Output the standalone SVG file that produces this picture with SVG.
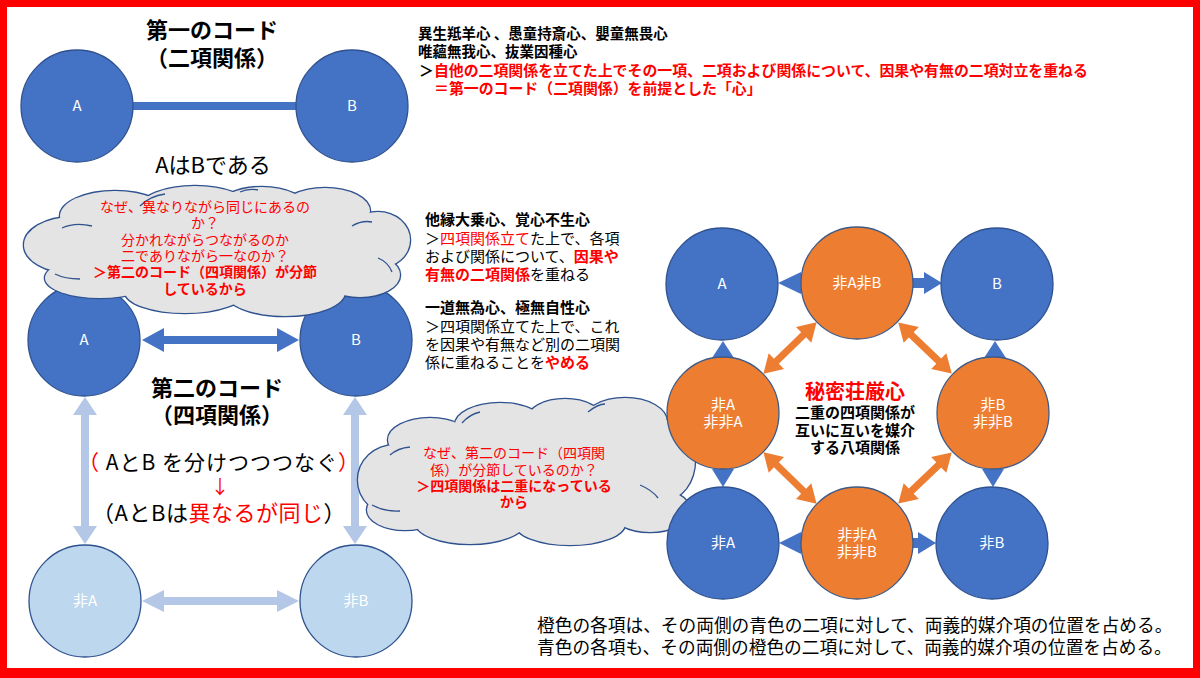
<svg xmlns="http://www.w3.org/2000/svg" xmlns:xlink="http://www.w3.org/1999/xlink" width="1200" height="678" viewBox="0 0 1200 678">
<style>
  text { font-family: 'Noto Sans CJK JP', 'Noto Sans', sans-serif; }
  .blue { fill:#4472C4; stroke:#2F528F; stroke-width:1.3; }
  .orange { fill:#ED7D31; stroke:#3E5A86; stroke-width:1.3; }
  .light { fill:#BDD7EE; stroke:#2F528F; stroke-width:1.3; }
  .lbl { fill:#FFFFFF; font-size:15px; text-anchor:middle; }
  .ttl { font-size:22px; font-weight:bold; text-anchor:middle; fill:#000; }
  .txt { font-size:15px; fill:#000; }
  .bd { font-weight:bold; }
  .red { fill:#FF0000; }
  .ctxt { font-size:14px; fill:#FF0000; text-anchor:middle; }
  .cloudline { fill:#E4E4E4; stroke:#2F528F; stroke-width:2.6; }
  .cloudfill { fill:#E4E4E4; stroke:none; }
  .inner { fill:none; stroke:#2F528F; stroke-width:1.3; }
</style>
<defs>
  <g id="c1shape">
    <ellipse cx="72" cy="245" rx="48" ry="28"/>
    <ellipse cx="115" cy="216" rx="55" ry="25"/>
    <ellipse cx="195" cy="208" rx="55" ry="22"/>
    <ellipse cx="262" cy="209" rx="45" ry="22"/>
    <ellipse cx="325" cy="211" rx="45" ry="23"/>
    <ellipse cx="378" cy="240" rx="32" ry="28"/>
    <ellipse cx="360" cy="275" rx="40" ry="22"/>
    <ellipse cx="285" cy="292" rx="60" ry="24"/>
    <ellipse cx="185" cy="292" rx="60" ry="21"/>
    <ellipse cx="100" cy="278" rx="55" ry="20"/>
    <ellipse cx="215" cy="250" rx="165" ry="50"/>
  </g>
  <g id="c2shape">
    <ellipse cx="395" cy="480" rx="37" ry="35"/>
    <ellipse cx="430" cy="440" rx="42" ry="22"/>
    <ellipse cx="500" cy="425" rx="45" ry="22"/>
    <ellipse cx="565" cy="420" rx="38" ry="21"/>
    <ellipse cx="625" cy="422" rx="42" ry="24"/>
    <ellipse cx="665" cy="460" rx="30" ry="40"/>
    <ellipse cx="650" cy="510" rx="40" ry="22"/>
    <ellipse cx="570" cy="524" rx="55" ry="21"/>
    <ellipse cx="470" cy="522" rx="55" ry="22"/>
    <ellipse cx="405" cy="510" rx="38" ry="20"/>
    <ellipse cx="525" cy="470" rx="140" ry="52"/>
  </g>
  <polygon id="odbl" points="-37,0 -19,-11 -19,-3.5 19,-3.5 19,-11 37,0 19,11 19,3.5 -19,3.5 -19,11" fill="#ED7D31"/>
</defs>

<!-- frame -->
<rect x="0" y="0" width="1200" height="678" fill="#FF0000"/>
<rect x="7" y="7" width="1186" height="661" fill="#FFFFFF"/>

<!-- connectors -->
<g id="connectors">
  <rect x="133" y="102" width="163" height="8" fill="#4472C4"/>
  <polygon points="142,340 164,328 164,336 277,336 277,328 299,340 277,352 277,344 164,344 164,352" fill="#4472C4"/>
  <polygon points="142,601 164,590 164,597 277,597 277,590 299,601 277,612 277,605 164,605 164,612" fill="#B4C7E7"/>
  <polygon points="85,397 73,415 81,415 81,526 73,526 85,544 97,526 89,526 89,415 97,415" fill="#B4C7E7"/>
  <polygon points="355,397 343,415 351,415 351,526 343,526 355,544 367,526 359,526 359,415 367,415" fill="#B4C7E7"/>
  <!-- octagon blue arrows -->
  <polygon points="778,283 801,272 801,294" fill="#4472C4"/>
  <polygon points="910,278 924,278 924,272 942,283 924,294 924,288 910,288" fill="#4472C4"/>
  <polygon points="723,341 712,358 734,358" fill="#4472C4"/>
  <polygon points="723,487 712,469 734,469" fill="#4472C4"/>
  <polygon points="995,341 984,358 1006,358" fill="#4472C4"/>
  <polygon points="993,487 982,469 1004,469" fill="#4472C4"/>
  <polygon points="779,543 801,532 801,554" fill="#4472C4"/>
  <polygon points="910,538 918,538 918,532 936,543 918,554 918,548 910,548" fill="#4472C4"/>
  <!-- orange double arrows -->
  <use xlink:href="#odbl" href="#odbl" transform="translate(790,348) rotate(-44.1)"/>
  <use xlink:href="#odbl" href="#odbl" transform="translate(925,348) rotate(43.7)"/>
  <use xlink:href="#odbl" href="#odbl" transform="translate(790,478) rotate(44.1)"/>
  <use xlink:href="#odbl" href="#odbl" transform="translate(925,478) rotate(-43.7)"/>
</g>

<!-- first code -->
<g id="title1">
  <text class="ttl" x="212" y="38">第一のコード</text>
  <text class="ttl" x="212" y="66">（二項関係）</text>
</g>
<g id="nodeA1"><circle class="blue" cx="77" cy="106" r="56"/><text class="lbl" x="77" y="111">A</text></g>
<g id="nodeB1"><circle class="blue" cx="352" cy="106" r="56"/><text class="lbl" x="352" y="111">B</text></g>
<g id="caption1"><text x="213" y="173" font-size="22" text-anchor="middle" fill="#000">AはBである</text></g>

<!-- second code -->
<g id="nodeA2"><circle class="blue" cx="84" cy="340" r="56"/><text class="lbl" x="84" y="345">A</text></g>
<g id="nodeB2"><circle class="blue" cx="356" cy="340" r="56"/><text class="lbl" x="356" y="345">B</text></g>
<g id="nodeNA2"><circle class="light" cx="85" cy="601" r="56"/><text class="lbl" x="85" y="606">非A</text></g>
<g id="nodeNB2"><circle class="light" cx="356" cy="601" r="56"/><text class="lbl" x="356" y="606">非B</text></g>

<g id="cloud1">
  <use xlink:href="#c1shape" href="#c1shape" class="cloudline"/>
  <use xlink:href="#c1shape" href="#c1shape" class="cloudfill"/>
  <path class="inner" d="M62,228 Q75,222 92,226"/>
  <path class="inner" d="M140,206 Q150,196 165,194"/>
  <path class="inner" d="M240,192 Q248,188 258,190"/>
  <path class="inner" d="M352,226 Q362,220 372,222"/>
  <path class="inner" d="M378,258 Q388,262 392,272"/>
  <path class="inner" d="M55,274 Q65,279 80,279"/>
  <text class="ctxt" x="205" y="212">なぜ、異なりながら同じにあるの</text>
  <text class="ctxt" x="205" y="228">か？</text>
  <text class="ctxt" x="205" y="245">分かれながらつながるのか</text>
  <text class="ctxt" x="205" y="261">二でありながら一なのか？</text>
  <text class="ctxt bd" x="205" y="277">＞第二のコード（四項関係）が分節</text>
  <text class="ctxt bd" x="205" y="294">しているから</text>
</g>

<g id="title2">
  <text class="ttl" x="217" y="396">第二のコード</text>
  <text class="ttl" x="217" y="423">（四項関係）</text>
  <text x="219" y="470" font-size="21" letter-spacing="1" text-anchor="middle" fill="#000"><tspan fill="#FF0000">（</tspan> AとB を分けつつつなぐ<tspan fill="#FF0000">）</tspan></text>
  <text x="220" y="494" font-size="19" text-anchor="middle" fill="#FF0000">↓</text>
  <text x="219" y="521" font-size="22" letter-spacing="0.5" text-anchor="middle" fill="#000">（AとBは<tspan fill="#FF0000">異なるが同じ</tspan>）</text>
</g>

<!-- top text -->
<g id="text-top">
  <text x="418" y="39" class="txt bd" style="font-size:14.5px">異生羝羊心 、愚童持斎心、嬰童無畏心</text>
  <text x="418" y="57" class="txt bd" style="font-size:14.5px">唯蘊無我心、抜業因種心</text>
  <text x="419" y="76" class="txt bd" style="font-size:14.9px">＞<tspan fill="#FF0000">自他の二項関係を立てた上でその一項、二項および関係について、因果や有無の二項対立を重ねる</tspan></text>
  <text x="434" y="94" class="txt bd red" style="font-size:14.9px">＝第一のコード（二項関係）を前提とした「心」</text>
</g>

<!-- middle text -->
<g id="text-mid">
  <text x="425" y="225" class="txt bd">他縁大乗心、覚心不生心</text>
  <text x="425" y="244" class="txt">＞<tspan fill="#FF0000">四項関係立て</tspan>た上で、各項</text>
  <text x="425" y="262" class="txt">および関係について、<tspan fill="#FF0000" font-weight="bold">因果や</tspan></text>
  <text x="425" y="280" class="txt"><tspan fill="#FF0000" font-weight="bold">有無の二項関係</tspan>を重ねる</text>
  <text x="425" y="313" class="txt bd">一道無為心、極無自性心</text>
  <text x="425" y="332" class="txt">＞四項関係立てた上で、これ</text>
  <text x="425" y="350" class="txt">を因果や有無など別の二項関</text>
  <text x="425" y="368" class="txt">係に重ねることを<tspan fill="#FF0000" font-weight="bold">やめる</tspan></text>
</g>

<g id="cloud2">
  <use xlink:href="#c2shape" href="#c2shape" class="cloudline"/>
  <use xlink:href="#c2shape" href="#c2shape" class="cloudfill"/>
  <path class="inner" d="M390,455 Q398,448 410,447"/>
  <path class="inner" d="M462,423 Q470,414 480,412"/>
  <path class="inner" d="M588,412 Q598,404 605,404"/>
  <path class="inner" d="M640,485 Q652,490 658,498"/>
  <path class="inner" d="M372,505 Q385,512 400,511"/>
  <text class="ctxt" x="514" y="458">なぜ、第二のコード（四項関</text>
  <text class="ctxt" x="514" y="475">係）が分節しているのか？</text>
  <text class="ctxt bd" x="514" y="491">＞四項関係は二重になっている</text>
  <text class="ctxt bd" x="514" y="507">から</text>
</g>

<!-- octagon nodes -->
<g id="oA"><circle class="blue" cx="722" cy="284" r="56"/><text class="lbl" x="722" y="289">A</text></g>
<g id="oNANB"><circle class="orange" cx="857" cy="283" r="56"/><text class="lbl" x="857" y="288">非A非B</text></g>
<g id="oB"><circle class="blue" cx="997" cy="284" r="56"/><text class="lbl" x="997" y="289">B</text></g>
<g id="oNA_NNA"><circle class="orange" cx="723" cy="413" r="56"/><text class="lbl" x="723" y="410">非A</text><text class="lbl" x="723" y="427">非非A</text></g>
<g id="oNB_NNB"><circle class="orange" cx="993" cy="413" r="56"/><text class="lbl" x="993" y="410">非B</text><text class="lbl" x="993" y="427">非非B</text></g>
<g id="oNA"><circle class="blue" cx="723" cy="543" r="56"/><text class="lbl" x="723" y="548">非A</text></g>
<g id="oNNA_NNB"><circle class="orange" cx="857" cy="543" r="56"/><text class="lbl" x="857" y="540">非非A</text><text class="lbl" x="857" y="557">非非B</text></g>
<g id="oNB"><circle class="blue" cx="992" cy="543" r="56"/><text class="lbl" x="992" y="548">非B</text></g>

<g id="center-text">
  <text x="855" y="399" font-size="20" font-weight="bold" fill="#FF0000" text-anchor="middle">秘密荘厳心</text>
  <text x="855" y="418" class="txt bd" text-anchor="middle">二重の四項関係が</text>
  <text x="855" y="436" class="txt bd" text-anchor="middle">互いに互いを媒介</text>
  <text x="855" y="453" class="txt bd" text-anchor="middle">する八項関係</text>
</g>

<g id="bottom-text">
  <text x="537" y="632" font-size="17.7" fill="#000">橙色の各項は、その両側の青色の二項に対して、両義的媒介項の位置を占める。</text>
  <text x="537" y="654" font-size="17.7" fill="#000">青色の各項も、その両側の橙色の二項に対して、両義的媒介項の位置を占める。</text>
</g>
</svg>
